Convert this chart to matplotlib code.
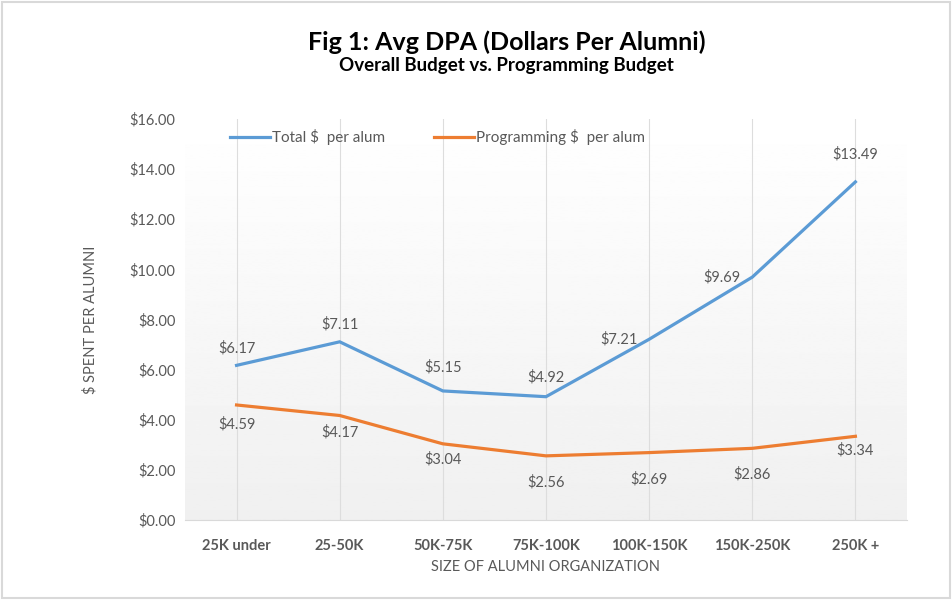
import numpy as np
import matplotlib
matplotlib.use('Agg')
from matplotlib import pyplot as plt
from matplotlib.patches import Rectangle

plt.rcParams['font.family'] = ['Lato', 'DejaVu Sans']

# data
categories = ['25K under', '25-50K', '50K-75K', '75K-100K', '100K-150K', '150K-250K', '250K +']
total_per_alum = [6.17, 7.11, 5.15, 4.92, 7.21, 9.69, 13.49]
prog_per_alum = [4.59, 4.17, 3.04, 2.56, 2.69, 2.86, 3.34]
yticks = [0, 2, 4, 6, 8, 10, 12, 14, 16]

# label offsets in points (dx, dy), as Excel placed them
total_offsets = [(0, 12), (0, 13), (0, 17), (0, 14), (-22, 0), (-22, 0), (0, 20)]
prog_offsets = [(0, -14), (0, -12), (0, -11), (0, -19), (0, -19), (0, -19), (0, -10)]

blue = '#5b9bd5'
orange = '#ed7d31'
gray = '#595959'

fig = plt.figure(figsize=(9.52, 6), dpi=100)
ax = fig.add_axes([0.1943, 0.1333, 0.7584, 0.6684])

# soft gradient background of the plot area
grad = np.linspace(1.0, 0.94, 256).reshape(-1, 1)
ax.imshow(grad, extent=[0, 1, 0, 1], transform=ax.transAxes, cmap='gray',
          vmin=0, vmax=1, aspect='auto', zorder=0)

x = np.arange(len(categories))
for xi in x:
    ax.axvline(xi, color='#dddddd', lw=0.8, zorder=1)

ax.plot(x, total_per_alum, color=blue, lw=2.3, label='Total $  per alum', zorder=3,
        solid_joinstyle='miter')
ax.plot(x, prog_per_alum, color=orange, lw=2.3, label='Programming $  per alum', zorder=3,
        solid_joinstyle='miter')

for xi, v, off in zip(x, total_per_alum, total_offsets):
    ax.annotate(f'${v:.2f}', (xi, v), xytext=off, textcoords='offset points',
                ha='center', va='center', fontsize=10.5, color=gray)
for xi, v, off in zip(x, prog_per_alum, prog_offsets):
    ax.annotate(f'${v:.2f}', (xi, v), xytext=off, textcoords='offset points',
                ha='center', va='center', fontsize=10.5, color=gray)

ax.set_xlim(-0.5, len(categories) - 0.5)
ax.set_ylim(0, 16)
ax.set_yticks(yticks)
ax.set_yticklabels([f'${t:.2f}' for t in yticks], fontsize=10.5, color=gray)
ax.set_xticks(x)
ax.set_xticklabels(categories, fontsize=10.5, color=gray, fontweight='bold')
ax.tick_params(axis='both', length=0)
ax.tick_params(axis='x', pad=14)
ax.tick_params(axis='y', pad=7)

for s in ['top', 'right', 'left']:
    ax.spines[s].set_visible(False)
ax.spines['bottom'].set_color('#d9d9d9')

ax.set_xlabel('SIZE OF ALUMNI ORGANIZATION', fontsize=10.5, color=gray, labelpad=5)
ax.set_ylabel('$ SPENT PER ALUMNI', fontsize=10.5, color=gray, labelpad=23)

leg = ax.legend(loc='center', bbox_to_anchor=(0.35, 0.955), ncol=2, frameon=False,
                fontsize=11, handlelength=2.6, handletextpad=0.15, columnspacing=3.2)
for t in leg.get_texts():
    t.set_color(gray)

fig.text(0.532, 0.93, 'Fig 1: Avg DPA (Dollars Per Alumni)', ha='center', va='center',
         fontsize=18, fontweight='bold', color='black')
fig.text(0.532, 0.891, 'Overall Budget vs. Programming Budget', ha='center', va='center',
         fontsize=13.5, fontweight='bold', color='black')

# thin frame around the whole chart
fig.patches.append(Rectangle((0.002, 0.003), 0.996, 0.994, transform=fig.transFigure,
                             fill=False, edgecolor='#d9d9d9', lw=1.5))

fig.savefig('out.png', dpi=100)
